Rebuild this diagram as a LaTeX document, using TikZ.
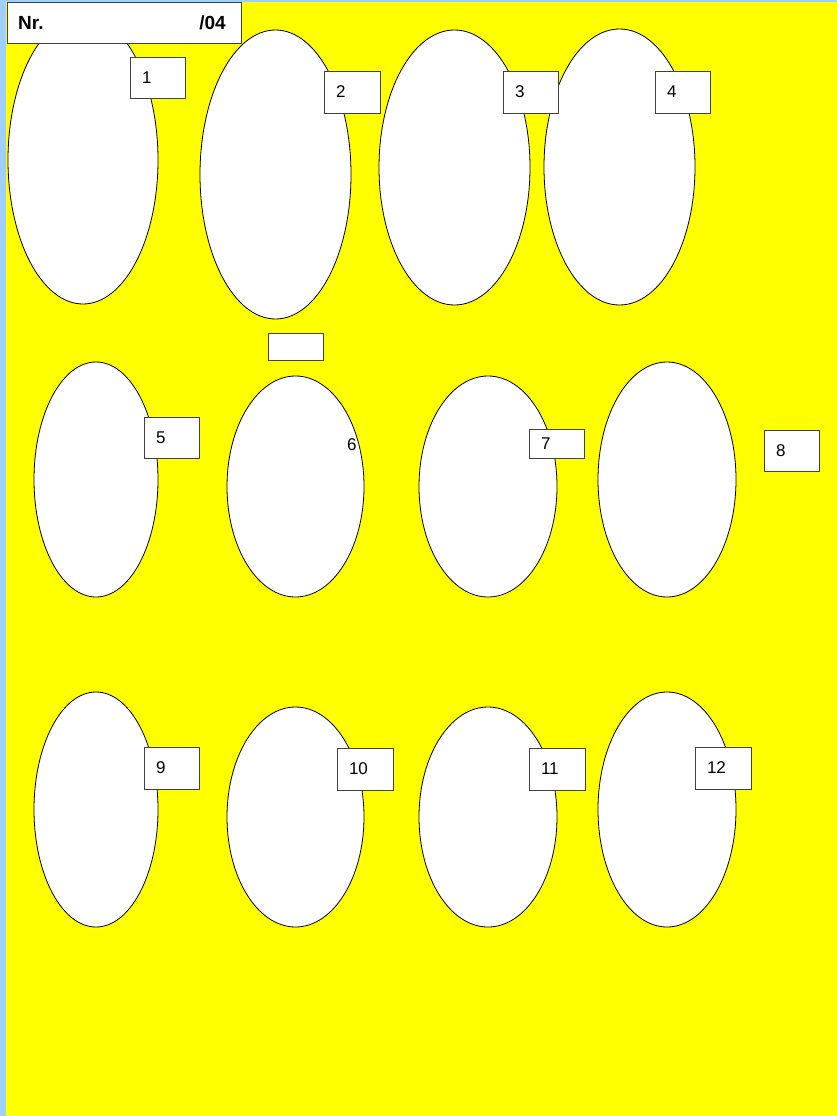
\documentclass[tikz,border=0pt]{standalone}
\usepackage{fontspec}
\setmainfont{Liberation Sans}
\usetikzlibrary{shapes.geometric}
\definecolor{bg}{RGB}{255,255,0}
\definecolor{strip}{RGB}{160,207,255}
\tikzset{
  egg/.style={draw=black, fill=white, ellipse, inner sep=0pt, line width=0.8pt},
  numbox/.style={draw=black!75, fill=white, rectangle, line width=0.8pt, inner sep=0pt,
    font=\fontsize{17}{19}\selectfont, align=left},
}
\newcommand{\eggnode}[5]{\node[egg, minimum width=#3pt, minimum height=#4pt] (#5) at (#1,#2) {};}
\newcommand{\boxnode}[6]{\node[numbox, minimum width=#3pt, minimum height=#4pt, text width=#3pt-24pt, inner xsep=12pt] (#5) at (#1,#2) {#6};}
\begin{document}
\begin{tikzpicture}[x=1pt,y=-1pt]
\useasboundingbox (0,0) rectangle (836,1116);
\fill[bg] (-4,-4) rectangle (842,1122);
\fill[strip] (-4,-4) rectangle (6,1122);
\fill[strip] (-4,-4) rectangle (842,2);
% row 1
\eggnode{83}{160}{150}{288}{e1}
\eggnode{275.5}{174.5}{151}{289}{e2}
\eggnode{454.5}{167.5}{151}{275}{e3}
\eggnode{619.5}{167}{151}{276}{e4}
% row 2
\eggnode{96}{479.5}{124}{235}{e5}
\eggnode{295.5}{486.5}{137}{221}{e6}
\eggnode{488}{486.5}{138}{221}{e7}
\eggnode{667}{479.5}{138}{235}{e8}
% row 3
\eggnode{96}{809.5}{124}{235}{e9}
\eggnode{295.5}{817}{137}{220}{e10}
\eggnode{488}{817}{138}{220}{e11}
\eggnode{667}{809.5}{138}{235}{e12}
% label 6, clipped by its ellipse
\begin{scope}
\clip (295.5,486.5) ellipse [x radius=68.5pt, y radius=110.5pt];
\node[font=\fontsize{17}{19}\selectfont, inner sep=0pt, anchor=west] (t6) at (347,445) {6};
\end{scope}
% header box
\node[draw=black!75, fill=white, line width=0.8pt, minimum width=234pt, minimum height=41pt, inner sep=0pt] (hdr) at (124,22.5) {};
\node[font=\bfseries\fontsize{19}{21}\selectfont, inner sep=0pt, anchor=west] (nr) at (18,23) {Nr.};
\node[font=\bfseries\fontsize{19}{21}\selectfont, inner sep=0pt, anchor=east] (yr) at (226,23) {/04};
% number boxes
\boxnode{157.5}{77.5}{55}{41}{b1}{1}
\boxnode{352}{92}{56}{42}{b2}{2}
\boxnode{530.5}{92}{55}{42}{b3}{3}
\boxnode{682.5}{92}{55}{42}{b4}{4}
\node[draw=black!75, fill=white, line width=0.8pt, minimum width=55pt, minimum height=27pt, inner sep=0pt] (blank) at (295.5,346.5) {};
\boxnode{171.5}{437.5}{55}{41}{b5}{5}
\boxnode{556.5}{443.5}{55}{29}{b7}{7}
\boxnode{791.5}{450.5}{55}{41}{b8}{8}
\boxnode{171.5}{768}{55}{42}{b9}{9}
\boxnode{365}{769}{56}{42}{b10}{10}
\boxnode{557}{769}{56}{42}{b11}{11}
\boxnode{723}{768}{56}{42}{b12}{12}
\end{tikzpicture}
\end{document}
